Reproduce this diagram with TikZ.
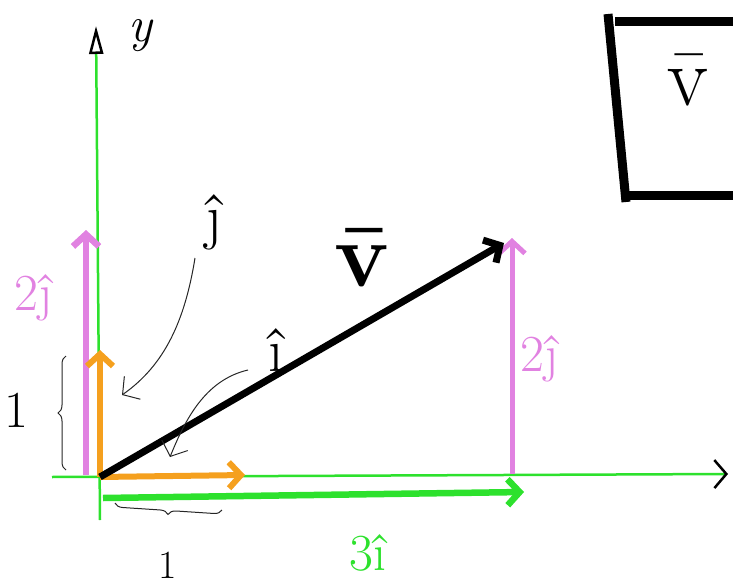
\documentclass[tikz,border=0pt]{standalone}
\usepackage{amsmath}
\usepackage{tikz}
\usetikzlibrary{
  arrows.meta,              % Straight Barb 等箭头样式
  decorations.pathreplacing,% 大括号装饰
  positioning               % 节点相对定位
}
\definecolor{axisgreen}{RGB}{45,225,45}
\definecolor{unitorange}{RGB}{245,160,30}
\definecolor{compviolet}{RGB}{225,130,225}
\tikzset{
  axis line/.style={
    line width=2.5pt,
    color=axisgreen
  },
  unit vec/.style={
    -{Straight Barb[length=12pt, width=26pt]},
    line width=6pt,
    color=unitorange
  },
  comp vec/.style={
    -{Straight Barb[length=12pt, width=26pt]},
    line width=6.5pt
  },
  hand arrow/.style={
    -{Straight Barb[length=12pt, width=28pt]},
    line width=1pt,
    color=black!85
  },
  hand brace/.style={
    decorate,
    decoration={brace, amplitude=8pt},
    line width=1pt,
    color=black!85
  },
  hand label/.style={
    font=\fontsize{52}{54}\selectfont,
    inner sep=0pt
  }
}

\begin{document}
\begin{tikzpicture}[x=1pt, y=-1pt]

  \useasboundingbox (0,0) rectangle (733,588);

  % 1. 坐标原点与各向量端点
  \coordinate (O) at (100,477);
  \coordinate (Yend) at (100,520);
  \coordinate (Ytip) at (96,26);
  \coordinate (Xstart) at (52,477);
  \coordinate (Xtip) at (728,474);
  \coordinate (Ihat) at (245,475);
  \coordinate (Jhat) at (100,350);
  \coordinate (Ithree) at (524,492);
  \coordinate (Ithreestart) at (103,498);
  \coordinate (Jleftstart) at (86,475);
  \coordinate (Jleft) at (86,230);
  \coordinate (V) at (504,243);
  \coordinate (Vfoot) at (512,474);
  \coordinate (Vtop) at (512,238);

  % 2. 绿色坐标轴 (黑色箭头)
  \draw[axis line, -{Triangle[open, color=black, length=28pt, width=14pt]}] (Yend) -- (Ytip);
  \draw[axis line, -{Straight Barb[color=black, length=12pt, width=28pt]}] (Xstart) -- (Xtip);
  \node[font=\fontsize{50}{52}\selectfont\itshape, inner sep=0pt] (ylabel) at (140,36) {y};

  % 3. 分量向量 3i 与 2j
  \draw[comp vec, color=axisgreen] (Ithreestart) -- (Ithree);
  \node[hand label, color=axisgreen] (threei) at (368,553) {3î};
  \draw[comp vec, color=compviolet] (Jleftstart) -- (Jleft);
  \node[hand label, color=compviolet] (twojleft) at (34,298) {2ĵ};
  \draw[comp vec, color=compviolet, line width=5pt] (Vfoot) -- (Vtop);
  \node[hand label, color=compviolet, right=8pt of Vfoot, yshift=115pt, anchor=west] (twojright) {2ĵ};

  % 4. 橙色单位向量
  \draw[unit vec] (O) -- (Ihat);
  \draw[unit vec] (O) -- (Jhat);

  % 5. 黑色向量 v
  \draw[comp vec, color=black, line width=7pt] (O) -- (V);
  \node[font=\fontsize{92}{94}\selectfont\bfseries, inner sep=0pt] (vlabel) at (362,258) {\={v}};

  % 6. 手写箭头与单位标签
  \node[font=\fontsize{62}{64}\selectfont, inner sep=0pt] (jtag) at (214,222) {ĵ};
  \coordinate (jfrom) at (195,258);
  \coordinate (jto) at (122,395);
  \draw[hand arrow] (jfrom) .. controls (185,320) and (165,365) .. (jto);
  \node[font=\fontsize{62}{64}\selectfont, inner sep=0pt] (itag) at (276,350) {î};
  \coordinate (ifrom) at (248,370);
  \coordinate (ito) at (170,457);
  \draw[hand arrow] (ifrom) .. controls (205,380) and (185,420) .. (ito);

  % 7. 长度为 1 的大括号
  \coordinate (bl1) at (66,470);
  \coordinate (bl2) at (66,356);
  \draw[hand brace] (bl1) -- (bl2);
  \node[hand label] (oneleft) at (16,410) {1};
  \coordinate (bb1) at (115,503);
  \coordinate (bb2) at (222,510);
  \draw[hand brace, decoration={mirror}] (bb1) -- (bb2);
  \node[font=\fontsize{40}{42}\selectfont, inner sep=0pt] (onebottom) at (168,565) {1};

  % 8. 右上角的方框
  \coordinate (boxtl) at (608,14);
  \coordinate (boxbl) at (626,202);
  \draw[line width=9pt] (615,22) -- (733,22);
  \draw[line width=9pt] (boxtl) -- (boxbl);
  \draw[line width=9pt] (624,196) -- (733,196);
  \node[font=\fontsize{84}{86}\selectfont, inner sep=0pt] (boxv) at (688,80) {\={v}};

\end{tikzpicture}
\end{document}
